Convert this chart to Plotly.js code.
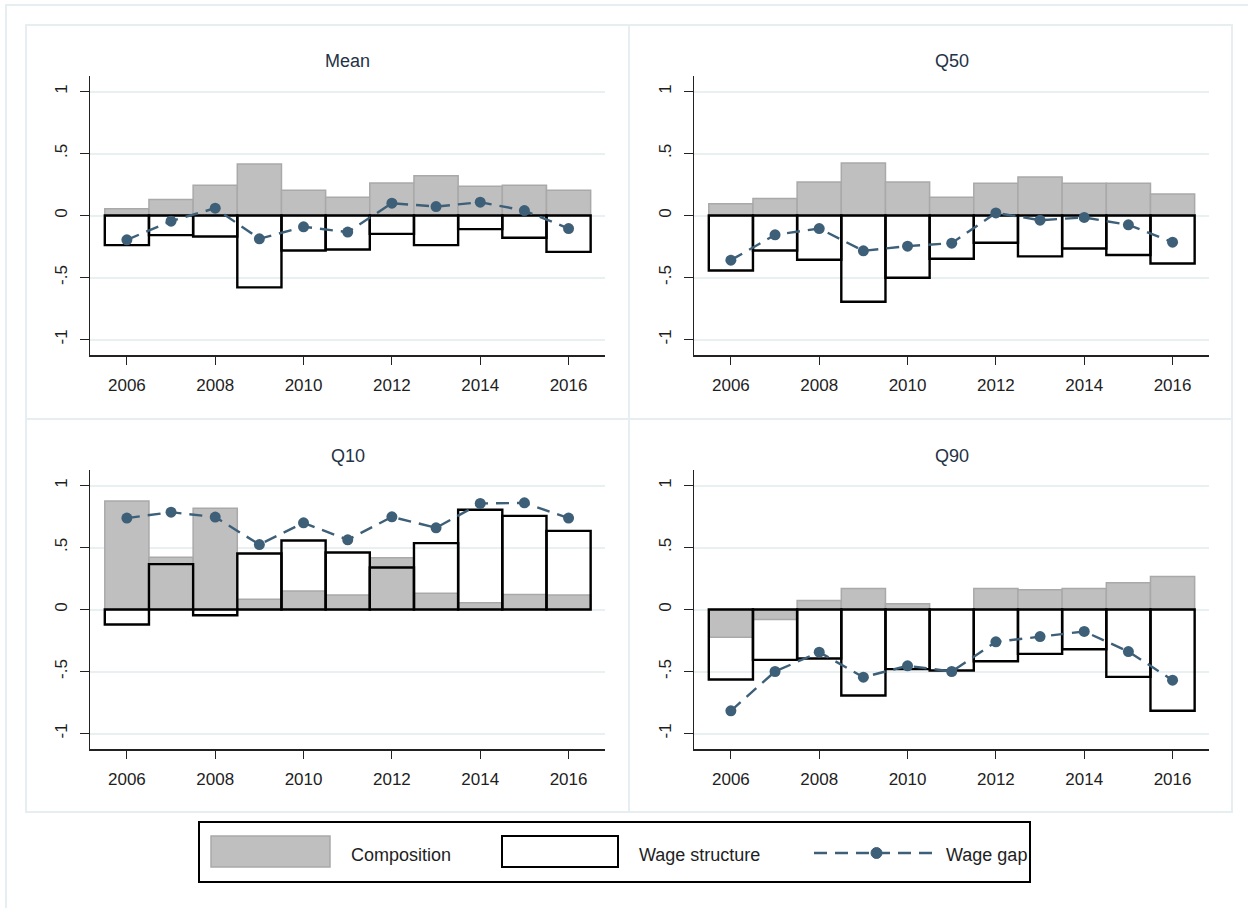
<!DOCTYPE html>
<html>
<head>
<meta charset="utf-8">
<script src="https://cdn.plot.ly/plotly-3.0.1.min.js"></script>
<style>
  html, body { margin: 0; padding: 0; background: #ffffff; }
  #chart { width: 1248px; height: 908px; }
</style>
</head>
<body>
<div id="chart"></div>
<script>
// Decomposition of the wage gap, 2006-2016
const years = [2006, 2007, 2008, 2009, 2010, 2011, 2012, 2013, 2014, 2015, 2016];
const yearTicks = [2006, 2008, 2010, 2012, 2014, 2016];
const yTickVals = [-1, -0.5, 0, 0.5, 1];
const yTickText = ['-1', '-.5', '0', '.5', '1'];

const panelTitles = ['Mean', 'Q50', 'Q10', 'Q90'];
const seriesNames = ['Composition', 'Wage structure', 'Wage gap'];

const meanComposition = [0.054, 0.130, 0.244, 0.416, 0.204, 0.148, 0.263, 0.320, 0.236, 0.244, 0.204];
const meanStructure   = [-0.239, -0.158, -0.169, -0.580, -0.282, -0.274, -0.148, -0.239, -0.110, -0.180, -0.293];
const meanGap         = [-0.196, -0.046, 0.059, -0.188, -0.091, -0.134, 0.099, 0.072, 0.107, 0.040, -0.105];

const q50Composition = [0.094, 0.137, 0.271, 0.424, 0.271, 0.148, 0.260, 0.311, 0.260, 0.260, 0.174];
const q50Structure   = [-0.443, -0.282, -0.357, -0.695, -0.502, -0.349, -0.220, -0.330, -0.266, -0.319, -0.387];
const q50Gap         = [-0.360, -0.156, -0.105, -0.285, -0.247, -0.223, 0.021, -0.038, -0.016, -0.075, -0.215];

const q10Composition = [0.874, 0.422, 0.817, 0.083, 0.150, 0.116, 0.417, 0.132, 0.054, 0.121, 0.116];
const q10Structure   = [-0.121, 0.366, -0.046, 0.452, 0.556, 0.460, 0.339, 0.535, 0.804, 0.755, 0.634];
const q10Gap         = [0.737, 0.785, 0.745, 0.524, 0.699, 0.562, 0.747, 0.659, 0.855, 0.860, 0.737];

const q90Composition = [-0.223, -0.081, 0.073, 0.169, 0.046, 0.000, 0.169, 0.159, 0.169, 0.215, 0.266];
const q90Structure   = [-0.565, -0.406, -0.395, -0.694, -0.481, -0.492, -0.417, -0.358, -0.320, -0.543, -0.817];
const q90Gap         = [-0.817, -0.500, -0.344, -0.546, -0.454, -0.500, -0.261, -0.218, -0.177, -0.339, -0.570];

// Styling
const W = 1248, H = 908;
const FONT = 'Liberation Sans, Arial, sans-serif';
const GRAY_FILL = '#bfbfbf';
const GRAY_EDGE = '#a9a9a9';
const GAP_COLOR = '#3e5f78';
const FRAME = '#e7eef1';
const GRID = '#e9f0f2';

const px = v => v / W;
const py = v => 1 - v / H;

// Panel plot areas in pixels: [left, right, top, bottom]
const panels = [
  { data: [meanComposition, meanStructure, meanGap], box: [90, 605, 76, 355], frame: [26, 629, 25, 419], titleY: 61 },
  { data: [q50Composition, q50Structure, q50Gap],    box: [694, 1209, 76, 355], frame: [629, 1232, 25, 419], titleY: 61 },
  { data: [q10Composition, q10Structure, q10Gap],    box: [90, 605, 470, 749], frame: [26, 629, 419, 812], titleY: 456 },
  { data: [q90Composition, q90Structure, q90Gap],    box: [694, 1209, 470, 749], frame: [629, 1232, 419, 812], titleY: 456 }
];

const traces = [];
const layout = {
  width: W, height: H,
  margin: { l: 0, r: 0, t: 0, b: 0 },
  paper_bgcolor: '#ffffff',
  plot_bgcolor: 'rgba(0,0,0,0)',
  barmode: 'overlay',
  showlegend: false,
  font: { family: FONT, size: 17, color: '#1e1e1e' },
  shapes: [],
  annotations: []
};

// Outer frame of the combined figure
layout.shapes.push({
  type: 'rect', xref: 'paper', yref: 'paper',
  x0: px(6), x1: px(1262), y0: py(5), y1: py(922),
  line: { color: FRAME, width: 2 }, layer: 'below'
});

panels.forEach((p, i) => {
  const n = i === 0 ? '' : String(i + 1);
  const xa = 'x' + n, ya = 'y' + n;
  const [comp, struct, gap] = p.data;

  traces.push({
    type: 'bar', x: years, y: comp, width: 1,
    xaxis: xa, yaxis: ya, name: seriesNames[0],
    marker: { color: GRAY_FILL, line: { color: GRAY_EDGE, width: 1.5 } }
  });
  traces.push({
    type: 'bar', x: years, y: struct, width: 1,
    xaxis: xa, yaxis: ya, name: seriesNames[1],
    marker: { color: 'rgba(0,0,0,0)', line: { color: '#000000', width: 2.4 } }
  });
  traces.push({
    type: 'scatter', mode: 'lines+markers', x: years, y: gap,
    xaxis: xa, yaxis: ya, name: seriesNames[2],
    line: { color: GAP_COLOR, width: 2.4, dash: '13px,8px' },
    marker: { color: GAP_COLOR, size: 11, symbol: 'circle' }
  });

  const [l, r, t, b] = p.box;
  layout['xaxis' + n] = {
    domain: [px(l), px(r)], anchor: ya,
    range: [2005.165, 2016.825],
    tickmode: 'array', tickvals: yearTicks,
    ticks: 'outside', ticklen: 8, tickwidth: 1.2, tickcolor: '#222',
    ticklabelstandoff: 6,
    showline: true, linecolor: '#222', linewidth: 1.5,
    showgrid: false, zeroline: false,
    tickfont: { family: FONT, size: 17, color: '#1e1e1e' },
    fixedrange: true
  };
  layout['yaxis' + n] = {
    domain: [py(b), py(t)], anchor: xa,
    range: [-1.125, 1.125],
    tickmode: 'array', tickvals: yTickVals, ticktext: yTickText,
    tickangle: -90,
    ticks: 'outside', ticklen: 9, tickwidth: 1.2, tickcolor: '#222',
    ticklabelstandoff: 6,
    showline: true, linecolor: '#222', linewidth: 1.5,
    showgrid: true, gridcolor: GRID, gridwidth: 2,
    zeroline: false,
    tickfont: { family: FONT, size: 17, color: '#1e1e1e' },
    fixedrange: true
  };

  // Panel frame
  const [fl, fr, ft, fb] = p.frame;
  layout.shapes.push({
    type: 'rect', xref: 'paper', yref: 'paper',
    x0: px(fl), x1: px(fr), y0: py(fb), y1: py(ft),
    line: { color: FRAME, width: 2 }, layer: 'below'
  });

  // Panel title
  layout.annotations.push({
    xref: 'paper', yref: 'paper',
    x: px((l + r) / 2), y: py(p.titleY),
    xanchor: 'center', yanchor: 'middle',
    text: panelTitles[i], showarrow: false,
    font: { family: FONT, size: 18, color: '#243246' }
  });
});

// Legend box below the panels
const legendShapes = [
  { type: 'rect', x0: 199, x1: 1030, y0: 822, y1: 882, line: { color: '#000', width: 2 }, fillcolor: '#fff' },
  { type: 'rect', x0: 211, x1: 330, y0: 836, y1: 867, line: { color: GRAY_EDGE, width: 1.5 }, fillcolor: GRAY_FILL },
  { type: 'rect', x0: 502, x1: 618, y0: 836, y1: 867, line: { color: '#000', width: 2 }, fillcolor: 'rgba(0,0,0,0)' },
  { type: 'line', x0: 814, x1: 936, y0: 853, y1: 853, line: { color: GAP_COLOR, width: 2.4, dash: '13px,8px' } },
  { type: 'circle', x0: 871, x1: 882, y0: 847.5, y1: 858.5, line: { color: GAP_COLOR, width: 1 }, fillcolor: GAP_COLOR }
];
legendShapes.forEach(s => {
  layout.shapes.push(Object.assign({}, s, {
    xref: 'paper', yref: 'paper',
    x0: px(s.x0), x1: px(s.x1), y0: py(s.y1), y1: py(s.y0)
  }));
});

const legendLabels = [
  { text: seriesNames[0], x: 349 },
  { text: seriesNames[1], x: 637 },
  { text: seriesNames[2], x: 944 }
];
legendLabels.forEach(lb => {
  layout.annotations.push({
    xref: 'paper', yref: 'paper', x: px(lb.x), y: py(855),
    xanchor: 'left', yanchor: 'middle', showarrow: false,
    text: lb.text, font: { family: FONT, size: 18, color: '#1e1e1e' }
  });
});

Plotly.newPlot('chart', traces, layout, { staticPlot: true, displayModeBar: false });
</script>
</body>
</html>
